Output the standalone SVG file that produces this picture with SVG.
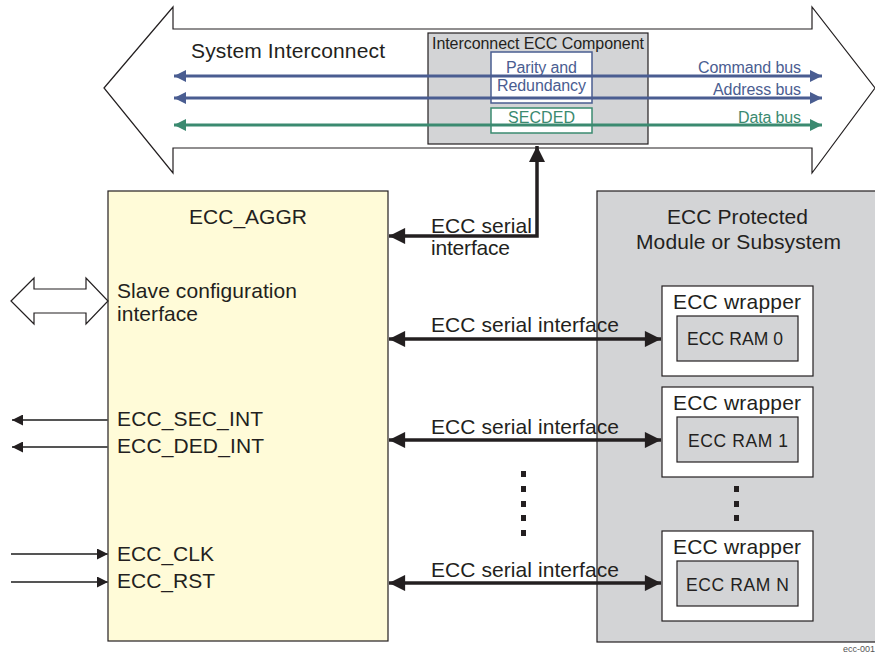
<svg xmlns="http://www.w3.org/2000/svg" width="875" height="653" viewBox="0 0 875 653">
<defs>
<style>
text{font-family:"Liberation Sans",Arial,sans-serif;fill:#231f20}
.t20{font-size:21px}
.t18{font-size:17.5px}
.t15{font-size:16px}
.blue{fill:#4a5d91}
.green{fill:#3b8a70}
.thick{stroke:#231f20;stroke-width:3.5;fill:none}
.thin{stroke:#555;stroke-width:2;fill:none}
.bl{stroke:#4a5d91;stroke-width:3;fill:none}
.gr{stroke:#3b8a70;stroke-width:3;fill:none}
</style>
<marker id="ah" viewBox="0 0 10 10" refX="10" refY="5" markerWidth="5" markerHeight="4.6" markerUnits="strokeWidth" orient="auto-start-reverse"><path d="M0,0 L10,5 L0,10 z" fill="#231f20"/></marker>
<marker id="ahs" viewBox="0 0 10 10" refX="10" refY="5" markerWidth="6" markerHeight="5.5" markerUnits="strokeWidth" orient="auto-start-reverse"><path d="M0,0 L10,5 L0,10 z" fill="#231f20"/></marker>
<marker id="ahb" viewBox="0 0 10 10" refX="10" refY="5" markerWidth="4.5" markerHeight="4" markerUnits="strokeWidth" orient="auto-start-reverse"><path d="M0,0 L10,5 L0,10 z" fill="#4a5d91"/></marker>
<marker id="ahg" viewBox="0 0 10 10" refX="10" refY="5" markerWidth="4.5" markerHeight="4" markerUnits="strokeWidth" orient="auto-start-reverse"><path d="M0,0 L10,5 L0,10 z" fill="#3b8a70"/></marker>
</defs>
<rect width="875" height="653" fill="#fff"/>

<g id="system-interconnect">
<path d="M104,88 L173,7 L173,29 L812,29 L812,7 L875,88 L812,173 L812,148 L173,148 L173,173 Z" fill="#fff" stroke="#231f20" stroke-width="1.2"/>
<text x="191" y="58" class="t20" textLength="194" lengthAdjust="spacing">System Interconnect</text>
</g>

<g id="interconnect-ecc">
<rect x="428" y="33" width="220" height="111" fill="#d3d4d6" stroke="#231f20" stroke-width="1.2"/>
<text x="432" y="49" class="t15" textLength="212" lengthAdjust="spacing">Interconnect ECC Component</text>
</g>

<g id="parity">
<rect x="491" y="52" width="101" height="51" fill="#fff" stroke="#4a5d91" stroke-width="1.5"/>
</g>
<g id="secded">
<rect x="491" y="108" width="101" height="25" fill="#fff" stroke="#3b8a70" stroke-width="1.5"/>
</g>

<g id="buses">
<line x1="174" y1="76" x2="822" y2="76" class="bl" marker-start="url(#ahb)" marker-end="url(#ahb)"/>
<line x1="174" y1="98" x2="822" y2="98" class="bl" marker-start="url(#ahb)" marker-end="url(#ahb)"/>
<line x1="174" y1="125" x2="822" y2="125" class="gr" marker-start="url(#ahg)" marker-end="url(#ahg)"/>
<text x="698" y="73" class="t15 blue" textLength="103" lengthAdjust="spacing">Command bus</text>
<text x="713" y="95" class="t15 blue" textLength="88" lengthAdjust="spacing">Address bus</text>
<text x="738" y="123" class="t15 green" textLength="63" lengthAdjust="spacing">Data bus</text>
</g>

<g id="parity-text">
<text x="506" y="73" class="t15 blue" textLength="71" lengthAdjust="spacing">Parity and</text>
<text x="497" y="91" class="t15 blue" textLength="89" lengthAdjust="spacing">Redundancy</text>
<text x="508" y="123" class="t15 green" textLength="67" lengthAdjust="spacing">SECDED</text>
</g>

<g id="ecc-aggr">
<rect x="108" y="191" width="280" height="450" fill="#fffbd8" stroke="#231f20" stroke-width="1.2"/>
<text x="189" y="224" class="t20" textLength="118" lengthAdjust="spacing">ECC_AGGR</text>
<text x="117" y="298" class="t20" textLength="180" lengthAdjust="spacing">Slave configuration</text>
<text x="117" y="321" class="t20" textLength="81" lengthAdjust="spacing">interface</text>
<text x="117" y="426" class="t20" textLength="146" lengthAdjust="spacing">ECC_SEC_INT</text>
<text x="117" y="453" class="t20" textLength="147" lengthAdjust="spacing">ECC_DED_INT</text>
<text x="117" y="561" class="t20" textLength="97" lengthAdjust="spacing">ECC_CLK</text>
<text x="117" y="588" class="t20" textLength="98" lengthAdjust="spacing">ECC_RST</text>
</g>

<g id="protected">
<rect x="597" y="191" width="280" height="451" fill="#d3d4d6" stroke="#231f20" stroke-width="1.2"/>
<text x="667" y="224" class="t20" textLength="141" lengthAdjust="spacing">ECC Protected</text>
<text x="636" y="249" class="t20" textLength="205" lengthAdjust="spacing">Module or Subsystem</text>
</g>

<g id="wrapper0">
<rect x="662" y="286" width="151" height="90" fill="#fff" stroke="#231f20" stroke-width="1.2"/>
<text x="673" y="309" class="t20" textLength="128" lengthAdjust="spacing">ECC wrapper</text>
<rect x="677" y="316" width="121" height="45" fill="#d3d4d6" stroke="#231f20" stroke-width="1.2"/>
<text x="687" y="345" class="t18" textLength="96" lengthAdjust="spacing">ECC RAM 0</text>
</g>
<g id="wrapper1">
<rect x="662" y="387" width="151" height="90" fill="#fff" stroke="#231f20" stroke-width="1.2"/>
<text x="673" y="410" class="t20" textLength="128" lengthAdjust="spacing">ECC wrapper</text>
<rect x="677" y="417" width="121" height="45" fill="#d3d4d6" stroke="#231f20" stroke-width="1.2"/>
<text x="688" y="447" class="t18" textLength="100" lengthAdjust="spacing">ECC RAM 1</text>
</g>
<g id="wrapperN">
<rect x="662" y="531" width="151" height="90" fill="#fff" stroke="#231f20" stroke-width="1.2"/>
<text x="673" y="554" class="t20" textLength="128" lengthAdjust="spacing">ECC wrapper</text>
<rect x="677" y="561" width="121" height="45" fill="#d3d4d6" stroke="#231f20" stroke-width="1.2"/>
<text x="686" y="591" class="t18" textLength="103" lengthAdjust="spacing">ECC RAM N</text>
</g>

<g id="dots" fill="#231f20">
<rect x="521" y="471" width="5" height="6"/>
<rect x="521" y="486" width="5" height="6"/>
<rect x="521" y="501" width="5" height="6"/>
<rect x="521" y="515" width="5" height="6"/>
<rect x="521" y="530" width="5" height="6"/>
<rect x="734" y="486" width="5" height="6"/>
<rect x="734" y="501" width="5" height="6"/>
<rect x="734" y="515" width="5" height="6"/>
</g>

<g id="connectors">
<path d="M537,146 L537,236 L389,236" class="thick" marker-start="url(#ah)" marker-end="url(#ah)"/>
<line x1="389" y1="339" x2="661" y2="339" class="thick" marker-start="url(#ah)" marker-end="url(#ah)"/>
<line x1="389" y1="440" x2="661" y2="440" class="thick" marker-start="url(#ah)" marker-end="url(#ah)"/>
<line x1="389" y1="583" x2="661" y2="583" class="thick" marker-start="url(#ah)" marker-end="url(#ah)"/>
<path d="M11,301 L34,278 L34,289 L86,289 L86,278 L108,301 L86,324 L86,313 L34,313 L34,324 Z" fill="#fff" stroke="#231f20" stroke-width="1.2"/>
<line x1="108" y1="420" x2="12" y2="420" class="thin" marker-end="url(#ahs)"/>
<line x1="108" y1="447" x2="12" y2="447" class="thin" marker-end="url(#ahs)"/>
<line x1="11" y1="554" x2="108" y2="554" class="thin" marker-end="url(#ahs)"/>
<line x1="11" y1="582" x2="108" y2="582" class="thin" marker-end="url(#ahs)"/>
</g>

<g id="labels">
<text x="431" y="233" class="t20" textLength="101" lengthAdjust="spacing">ECC serial</text>
<text x="431" y="255" class="t20" textLength="79" lengthAdjust="spacing">interface</text>
<text x="431" y="332" class="t20" textLength="188" lengthAdjust="spacing">ECC serial interface</text>
<text x="431" y="434" class="t20" textLength="188" lengthAdjust="spacing">ECC serial interface</text>
<text x="431" y="577" class="t20" textLength="188" lengthAdjust="spacing">ECC serial interface</text>
<text x="843" y="652" style="font-size:9px;fill:#555">ecc-001</text>
</g>
</svg>
